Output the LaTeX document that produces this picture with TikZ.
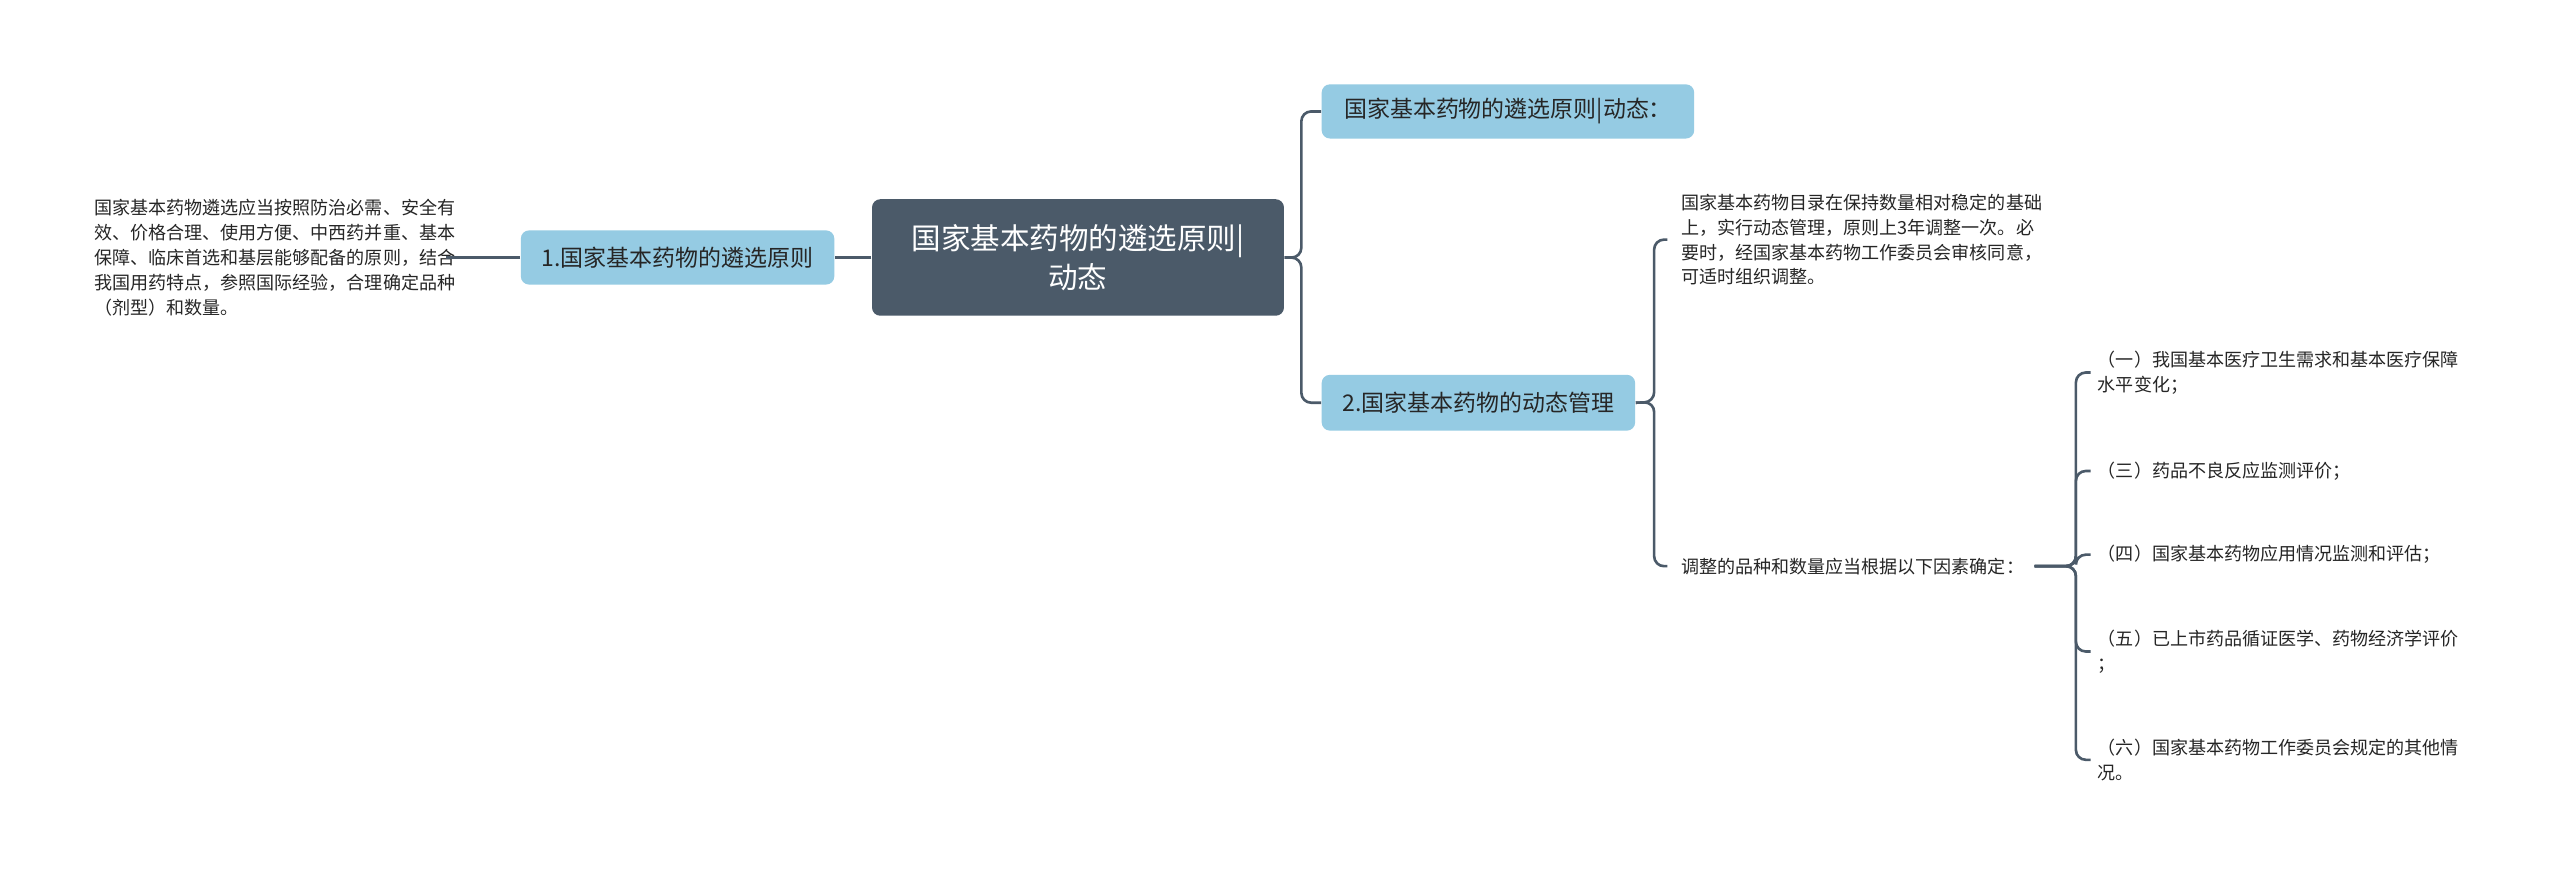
\documentclass[tikz,border=0pt]{standalone}
\usepackage{fontspec}
\setmainfont{Noto Sans CJK SC}
\begin{document}
\begin{tikzpicture}[x=0.5pt,y=-0.5pt,
  box/.style={rounded corners=2.5pt,fill=#1,inner sep=0pt,anchor=north west},
  lbl/.style={font=\fontsize{7}{9}\selectfont,text=black!85},
  small/.style={font=\fontsize{5.5}{7.6}\selectfont,text=black!85,align=left,anchor=west,inner sep=0pt},
  conn/.style={draw=lineC,line width=0.8pt,rounded corners=3pt}]
\definecolor{rootC}{HTML}{4B5A69}
\definecolor{boxC}{HTML}{95CBE3}
\definecolor{lineC}{HTML}{4B5A69}
\useasboundingbox[fill=white] (0,0) rectangle (1560,532);
% root
\node[box=rootC,minimum width=125.5pt,minimum height=35.5pt] (rootbox) at (531,121) {};
\node[font=\fontsize{9}{12}\selectfont,text=white,align=center] (root) at (rootbox.center) {国家基本药物的遴选原则|\\动态};
% left
\node[box=boxC,minimum width=95.5pt,minimum height=16.5pt] (l1) at (317,140) {};
\node[lbl] at (l1.center) {1.国家基本药物的遴选原则};
\node[small] (lt) at (57,157) {国家基本药物遴选应当按照防治必需、安全有\\效、价格合理、使用方便、中西药并重、基本\\保障、临床首选和基层能够配备的原则，结合\\我国用药特点，参照国际经验，合理确定品种\\（剂型）和数量。};
% right
\node[box=boxC,minimum width=113.5pt,minimum height=16.5pt] (r1) at (805,51) {};
\node[lbl,anchor=west] at ([xshift=3.5pt]r1.west) {国家基本药物的遴选原则|动态：};
\node[box=boxC,minimum width=95.5pt,minimum height=17pt] (r2) at (805,228) {};
\node[lbl] at (r2.center) {2.国家基本药物的动态管理};
\node[small] (t1) at (1024,146) {国家基本药物目录在保持数量相对稳定的基础\\上，实行动态管理，原则上3年调整一次。必\\要时，经国家基本药物工作委员会审核同意，\\可适时组织调整。};
\node[small] (t2) at (1024,345) {调整的品种和数量应当根据以下因素确定：};
\node[small] (i1) at (1278,227) {（一）我国基本医疗卫生需求和基本医疗保障\\水平变化；};
\node[small] (i3) at (1278,287) {（三）药品不良反应监测评价；};
\node[small] (i4) at (1278,338) {（四）国家基本药物应用情况监测和评估；};
\node[small] (i5) at (1278,397) {（五）已上市药品循证医学、药物经济学评价\\；};
\node[small] (i6) at (1278,463) {（六）国家基本药物工作委员会规定的其他情\\况。};
% connectors
\draw[conn] (rootbox.west) -- (l1.east);
\draw[conn] (l1.west) -- ([xshift=-3pt]lt.east |- l1.west);
\draw[conn] (rootbox.east) -- (793,157) |- (r1.west);
\draw[conn] (rootbox.east) -- (793,157) |- (r2.west);
\draw[conn] (r2.east) -- (1008,245) |- ([xshift=-4pt]t1.west);
\draw[conn] (r2.east) -- (1008,245) |- ([xshift=-4pt]t2.west);
\foreach \n in {i1,i3,i4,i5,i6}
  \draw[conn] ([xshift=3pt]t2.east) -- (1265,345) |- ([xshift=-2pt]\n.west);
\end{tikzpicture}
\end{document}
